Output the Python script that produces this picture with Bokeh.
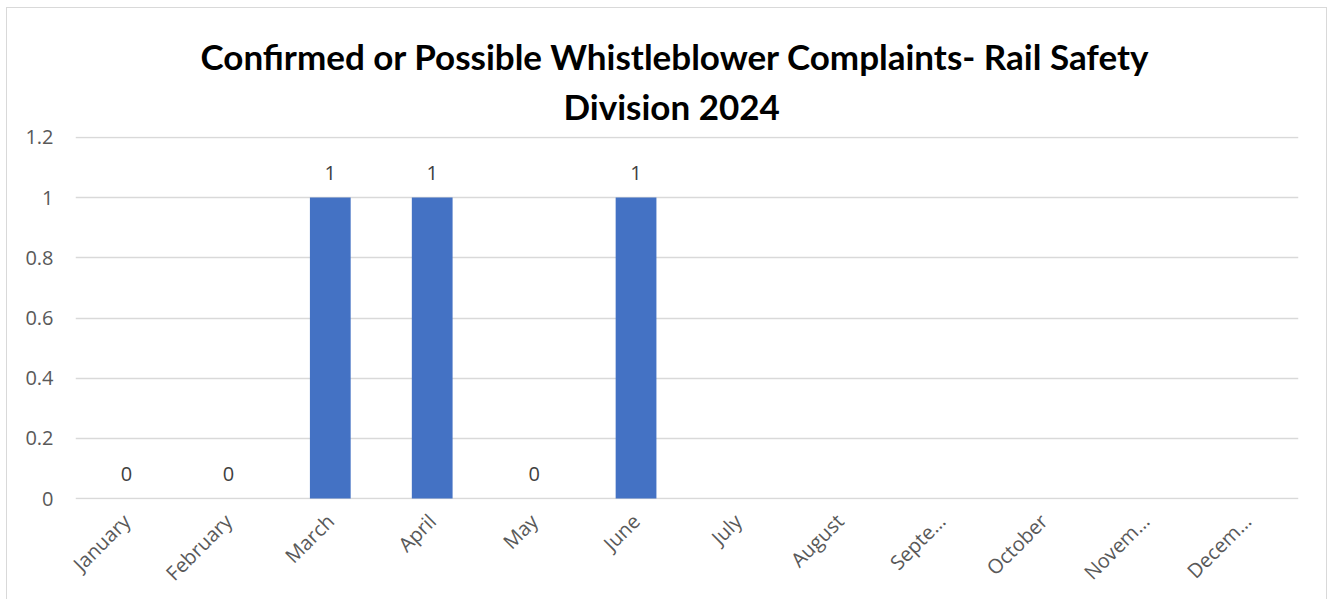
import math
from bokeh.plotting import figure
from bokeh.models import (ColumnDataSource, FixedTicker, CustomJSTickFormatter, Range1d,
                          Title, Spacer)
from bokeh.layouts import column, row
from bokeh.core.properties import value
from bokeh.embed import file_html
from bokeh.resources import INLINE

months = ["January", "February", "March", "April", "May", "June",
          "July", "August", "Septe\u2026", "October", "Novem\u2026", "Decem\u2026"]
complaints = [0, 0, 1, 1, 0, 1]  # only Jan-Jun have data
y_ticks = [0, 0.2, 0.4, 0.6, 0.8, 1.0, 1.2]
title_line1 = "Confirmed or Possible Whistleblower Complaints- Rail Safety"
title_line2 = "Division 2024"

have = months[:len(complaints)]
src = ColumnDataSource(dict(x=have, y=complaints, lbl=[str(v) for v in complaints]))

p = figure(x_range=months, y_range=Range1d(-0.003, 1.203), width=1319, height=591,
           title=None, output_backend="svg", toolbar_location=None,
           min_border_left=68, min_border_right=28, min_border_top=128, min_border_bottom=100)
p.styles = {"outline": "1px solid #D9D9D9"}

for txt, so, off in ((title_line2, 19, 488), (title_line1, -7, 125)):
    t = Title(text=txt, align="left", text_font="Lato", text_font_style="bold",
              text_font_size="35px", text_color="#000000", standoff=so, offset=off)
    p.add_layout(t, "above")

p.outline_line_color = None
p.x_range.range_padding = 0

p.vbar(x="x", top="y", width=0.4, source=src, color="#4472C4", line_color=None)
p.text(x="x", y="y", text="lbl", source=src, text_align="center", text_baseline="bottom",
       y_offset=-18, text_font=value("Open Sans"), text_font_size="20px", text_color="#404040")

p.xgrid.grid_line_color = None
p.ygrid.grid_line_color = "#D9D9D9"
p.ygrid.grid_line_width = 1.5
p.yaxis.ticker = FixedTicker(ticks=y_ticks)
p.yaxis.formatter = CustomJSTickFormatter(code="return String(Math.round(tick*10)/10);")

for ax in (p.xaxis, p.yaxis):
    ax.axis_line_color = None
    ax.major_tick_line_color = None
    ax.minor_tick_line_color = None
    ax.major_tick_out = 0
    ax.major_tick_in = 0
    ax.minor_tick_out = 0
    ax.minor_tick_in = 0
    ax.major_label_text_font = "Open Sans"
    ax.major_label_text_font_size = "20px"
    ax.major_label_text_color = "#595959"

p.xaxis.major_label_orientation = math.pi / 4
p.xaxis.major_label_standoff = 18
p.yaxis.major_label_standoff = 22

layout = column(Spacer(height=8), row(Spacer(width=7), p))
open("out.html", "w").write(file_html(layout, INLINE))
